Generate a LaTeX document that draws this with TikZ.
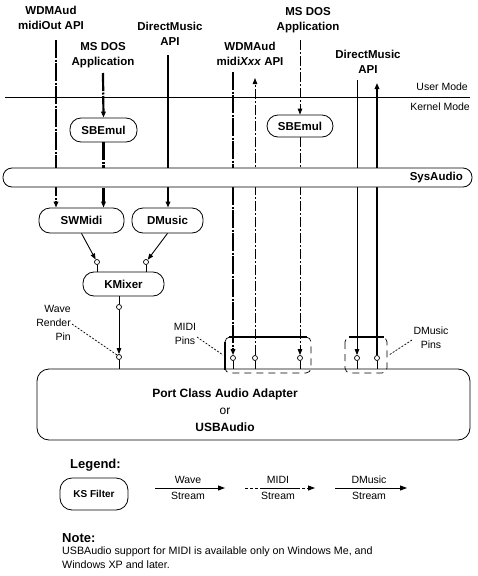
\documentclass[tikz,border=0pt]{standalone}
\usepackage{fontspec}
\setmainfont{Liberation Sans}
\usetikzlibrary{arrows.meta}
\begin{document}
\begin{tikzpicture}[x=1pt,y=-1pt,
  filt/.style={draw, line width=0.8pt, rounded corners=11pt, fill=white, inner sep=0pt, font=\bfseries\fontsize{11.5}{13}\selectfont},
  lab/.style={font=\bfseries\fontsize{11.5}{15}\selectfont, align=center, inner sep=0pt},
  small/.style={font=\fontsize{10.5}{14}\selectfont, inner sep=0pt},
  wave/.style={line width=0.9pt},
  dmus/.style={line width=2.2pt},
  midithick/.style={line width=2.2pt, dash pattern=on 18pt off 1.5pt on 2pt off 1.5pt},
  midithin/.style={line width=0.9pt, dash pattern=on 10pt off 2pt on 2pt off 2pt},
  tip/.style={-{Triangle[length=6pt,width=4.5pt]}},
  bigtip/.style={-{Triangle[length=7pt,width=5pt]}},
  pin/.style={circle, draw, line width=0.7pt, fill=white, minimum size=5pt, inner sep=0pt},
  callout/.style={line width=0.7pt, dash pattern=on 2pt off 1.5pt},
  grp/.style={line width=0.7pt, dash pattern=on 7pt off 5pt, rounded corners=5pt}]
\useasboundingbox (0,0) rectangle (477,576);

% ---- top labels
\node[lab] (wdmL) at (51,18) {WDMAud\\midiOut API};
\node[lab] (dosL) at (103,55) {MS DOS\\Application};
\node[lab] (dmL) at (170,34) {DirectMusic\\API};
\node[lab] (dosR) at (308,20) {MS DOS\\Application};
\node[lab] (wdmR) at (250,54) {WDMAud\\midi\textit{Xxx} API};
\node[lab] (dmR) at (368,62) {DirectMusic\\API};

% ---- user / kernel mode
\coordinate (ml) at (5,97);
\coordinate (mr) at (470,97);
\draw[line width=0.8pt] (ml) -- (mr);
\node[small, anchor=east] (um) at (468,87) {User Mode};
\node[small, anchor=east] (km) at (470,107) {Kernel Mode};

% ---- filters
\node[filt, minimum width=67pt, minimum height=24pt] (sbeL) at (103.5,130) {SBEmul};
\node[filt, minimum width=66pt, minimum height=22pt] (sbeR) at (300,126) {SBEmul};
\node[filt, minimum width=85pt, minimum height=25pt] (swmidi) at (81.5,220.5) {SWMidi};
\node[filt, minimum width=71pt, minimum height=25pt] (dmusic) at (167.5,220.5) {DMusic};
\node[filt, minimum width=81pt, minimum height=24pt] (kmixer) at (123.5,284) {KMixer};
\node[draw, line width=0.8pt, rounded corners=12pt, minimum width=433pt, minimum height=71pt] (adapter) at (253.5,404.5) {};
\node[font=\bfseries\fontsize{12}{17}\selectfont, align=center, inner sep=0pt] (adtext) at (225,410) {Port Class Audio Adapter\\{\mdseries or}\\USBAudio};

% ---- pins
\node[pin] (pinK1) at (97,262) {};
\node[pin] (pinK2) at (146,262) {};
\node[pin] (pinKo) at (119,307) {};
\node[pin] (pinW) at (119,357) {};
\node[pin] (pinM1) at (233,358) {};
\node[pin] (pinM2) at (255,358) {};
\node[pin] (pinM3) at (300,358) {};
\node[pin] (pinD1) at (357,358) {};
\node[pin] (pinD2) at (377,358) {};

% ---- start points
\coordinate (s1) at (56,40);
\coordinate (s2) at (103,73);
\coordinate (s3) at (168,55);
\coordinate (s4) at (300,40);
\coordinate (s5) at (233,72);
\coordinate (s6) at (255,78);
\coordinate (s7) at (357,80);
\coordinate (s8) at (377,83);

% ---- streams
\draw[midithick,tip] (s1) -- (s1 |- swmidi.north);
\draw[midithick,tip] (s2) -- (sbeL.north);
\draw[midithick,tip] (sbeL.south) -- (sbeL.south |- swmidi.north);
\draw[dmus,tip] (s3) -- (s3 |- dmusic.north);
\draw[wave,tip] (swmidi.south) -- (pinK1);
\draw[wave,tip] (dmusic.south) -- (pinK2);
\draw[wave] (pinK1.south) -- (pinK1 |- kmixer.north);
\draw[wave] (pinK2.south) -- (pinK2 |- kmixer.north);
\draw[wave] (pinKo |- kmixer.south) -- (pinKo.north);
\draw[wave,tip] (pinKo.south) -- (pinW.north);
\draw[wave] (pinW.south) -- (pinW |- adapter.north);

\draw[midithin,tip] (s4) -- (sbeR.north);
\draw[midithin,tip] (sbeR.south) -- (pinM3.north);
\draw[midithick,tip] (s5) -- (pinM1.north);
\draw[midithin,tip] (pinM2.north) -- (s6);
\draw[wave,tip] (s7) -- (pinD1.north);
\draw[dmus,tip] (pinD2.north) -- (s8);
\foreach \p in {pinM1,pinM2,pinM3,pinD1,pinD2}
  \draw[wave] (\p.south) -- (\p |- adapter.north);

% ---- SysAudio bar (over the streams)
\node[filt, minimum width=469pt, minimum height=19pt, rounded corners=9pt] (sysaudio) at (237.5,177.5) {};
\node[lab, anchor=east] (systext) at (463,178) {SysAudio};

% ---- pin groups
\draw[grp] (225,337) rectangle (311,373);
\draw[grp] (345,337) rectangle (387,373);
\draw[line width=2.2pt] (229,337) -- (307,337);
\draw[line width=2.2pt] (225,342) -- (225,370);
\draw[line width=2.2pt] (349,337) -- (384,337);

% ---- callouts
\node[small, align=right, anchor=east] (wrp) at (71,323) {Wave\\Render\\Pin};
\node[small, align=center] (mp) at (185,334) {MIDI\\Pins};
\node[small, align=center] (dp) at (431,338) {DMusic\\Pins};
\coordinate (c1) at (72,324);
\coordinate (c2) at (197,337);
\coordinate (c3) at (412,340);
\draw[callout] (c1) -- (pinW.north west);
\draw[callout] (c2) -- (223,355);
\draw[callout] (c3) -- (389,355);

% ---- legend
\node[font=\bfseries\fontsize{13}{15}\selectfont, anchor=west, inner sep=0pt] (legend) at (70,465) {Legend:};
\node[filt, minimum width=68pt, minimum height=32pt, rounded corners=12pt, font=\bfseries\fontsize{10}{12}\selectfont] (ks) at (94,494) {KS Filter};
\coordinate (la1) at (155,488); \coordinate (la2) at (225,488);
\coordinate (lb1) at (245,488); \coordinate (lb2) at (315,488);
\coordinate (lc1) at (335,488); \coordinate (lc2) at (407,488);
\draw[wave,bigtip] (la1) -- (la2);
\draw[line width=0.9pt, dash pattern=on 3pt off 2pt on 3pt off 2pt on 3pt off 2pt on 40pt off 2pt,bigtip] (lb1) -- (lb2);
\draw[wave,bigtip] (lc1) -- (lc2);
\node[small] (lwa) at (188,480) {Wave};
\node[small] (lwb) at (188,496) {Stream};
\node[small] (lma) at (278,480) {MIDI};
\node[small] (lmb) at (278,496) {Stream};
\node[small] (lda) at (369,480) {DMusic};
\node[small] (ldb) at (369,496) {Stream};

% ---- note
\node[font=\bfseries\fontsize{13}{15}\selectfont, anchor=west, inner sep=0pt] (note) at (62,538) {Note:};
\node[font=\fontsize{10.7}{14}\selectfont, anchor=north west, align=left, inner sep=0pt] (notetext) at (62,547) {USBAudio support for MIDI is available only on Windows Me, and\\Windows XP and later.};
\end{tikzpicture}
\end{document}
